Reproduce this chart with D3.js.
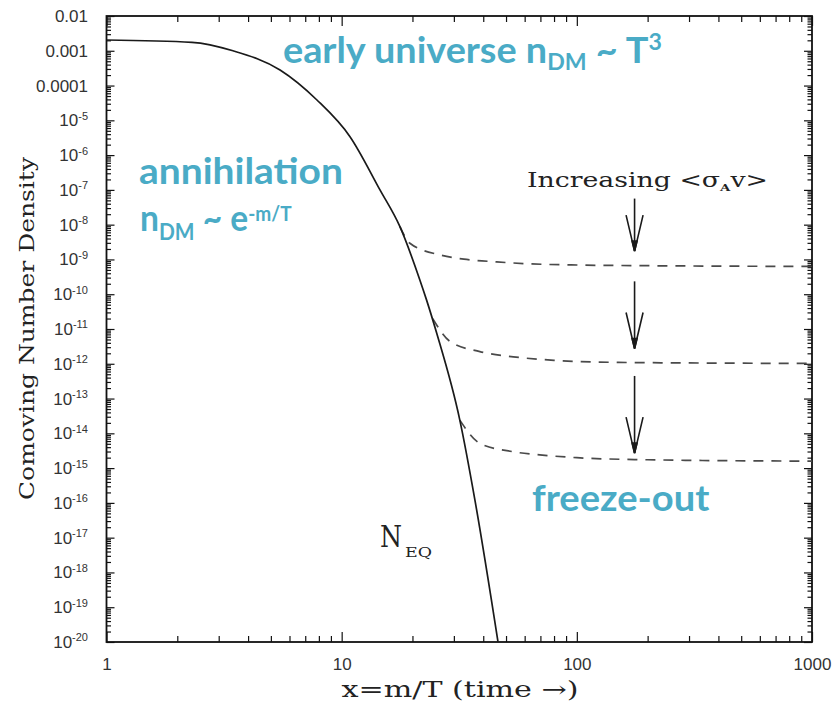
<!DOCTYPE html>
<html><head><meta charset="utf-8">
<script src="https://cdn.jsdelivr.net/npm/d3@7"></script>
<style>body{margin:0;background:#fff}</style>
</head><body>
<svg id="c" width="835" height="706"></svg>
<script>
// ---------- data ----------
const xTickValues = [1, 10, 100, 1000];
const yTickExponents = [-2,-3,-4,-5,-6,-7,-8,-9,-10,-11,-12,-13,-14,-15,-16,-17,-18,-19,-20];
// equilibrium curve N_EQ : x and log10(Y)
const eqX   = [1, 2.31, 3.45, 5.47, 7.85, 10.85, 14.55, 17.69, 21.5, 22.97, 25.33, 31.8, 36.87, 46.2];
const eqExp = [-2.69, -2.756, -3.0, -3.553, -4.415, -5.47, -7.0, -8.058, -9.59, -10.17, -11.11, -13.62, -15.92, -19.99];
// freeze-out (dashed) curves
const fo1X   = [17.69, 19.5, 26.2, 34.0, 45.6, 60, 100, 200, 1000];
const fo1Exp = [-8.058, -8.535, -8.87, -9.0, -9.07, -9.12, -9.16, -9.18, -9.2];
const fo2X   = [24.4, 28.9, 38.7, 53.7, 80, 150, 1000];
const fo2Exp = [-10.7, -11.36, -11.65, -11.80, -11.9, -11.96, -11.99];
const fo3X   = [31.8, 38.7, 53.7, 69.6, 100, 200, 1000];
const fo3Exp = [-13.62, -14.29, -14.53, -14.62, -14.7, -14.76, -14.8];
// arrows "Increasing <σv>"
const arrowX = 176;
const arrowFromExp = [-7.25, -9.63, -12.35];
const arrowToExp   = [-8.76, -11.56, -14.57];

// ---------- layout ----------
const svg = d3.select("#c");
const m = {left: 106.5, right: 812, top: 16, bottom: 642};
const x = d3.scaleLog().domain([1, 1000]).range([m.left, m.right]);
const y = d3.scaleLog().domain([1e-20, 1e-2]).range([m.bottom, m.top]);
const teal = "#4aabc6";

const yMajor = yTickExponents.map(e => Math.pow(10, e));
const yMinor = [];
for (let e = -20; e < -2; e++) for (let k = 2; k <= 9; k++) yMinor.push(k * Math.pow(10, e));
const xMinor = [];
for (let e = 0; e < 3; e++) for (let k = 2; k <= 9; k++) xMinor.push(k * Math.pow(10, e));

function cleanAxis(g){ g.select(".domain").remove(); g.selectAll(".tick line").attr("stroke","#111").attr("stroke-width",1.2); }

// minor ticks
svg.append("g").attr("transform",`translate(${m.left},0)`)
  .call(d3.axisLeft(y).tickValues(yMinor).tickSize(-4.5).tickFormat("")).call(cleanAxis);
svg.append("g").attr("transform",`translate(${m.right},0)`)
  .call(d3.axisRight(y).tickValues(yMinor).tickSize(-4.5).tickFormat("")).call(cleanAxis);
svg.append("g").attr("transform",`translate(0,${m.bottom})`)
  .call(d3.axisBottom(x).tickValues(xMinor).tickSize(-6).tickFormat("")).call(cleanAxis);
svg.append("g").attr("transform",`translate(0,${m.top})`)
  .call(d3.axisTop(x).tickValues(xMinor).tickSize(-6).tickFormat("")).call(cleanAxis);

// major ticks
const yAxisG = svg.append("g").attr("transform",`translate(${m.left},0)`)
  .call(d3.axisLeft(y).tickValues(yMajor).tickSize(-8).tickPadding(18.5).tickFormat(d => d))
  .call(cleanAxis);
svg.append("g").attr("transform",`translate(${m.right},0)`)
  .call(d3.axisRight(y).tickValues(yMajor).tickSize(-8).tickFormat("")).call(cleanAxis);
const xAxisG = svg.append("g").attr("transform",`translate(0,${m.bottom})`)
  .call(d3.axisBottom(x).tickValues(xTickValues).tickSize(-10).tickPadding(16).tickFormat(d3.format("d")))
  .call(cleanAxis);
svg.append("g").attr("transform",`translate(0,${m.top})`)
  .call(d3.axisTop(x).tickValues(xTickValues).tickSize(-10).tickFormat("")).call(cleanAxis);

xAxisG.selectAll("text").attr("font-family","'Liberation Sans', Arial, sans-serif").attr("font-size",17).attr("fill","#333");

yAxisG.selectAll(".tick text").each(function(d, i){
  const t = d3.select(this).text("").attr("font-family","'Liberation Sans', Arial, sans-serif").attr("fill","#333");
  const e = yTickExponents[i];
  if (e >= -4) {
    t.attr("font-size",17).text(e === -2 ? "0.01" : e === -3 ? "0.001" : "0.0001");
  } else {
    t.attr("font-size",17);
    t.append("tspan").text("10");
    t.append("tspan").attr("font-size",11).attr("dy","-6.5").text("-" + (-e));
  }
});

// frame
svg.append("rect").attr("x",m.left).attr("y",m.top).attr("width",m.right-m.left).attr("height",m.bottom-m.top)
  .attr("fill","none").attr("stroke","#111").attr("stroke-width",1.8);

// clip
svg.append("clipPath").attr("id","plot").append("rect")
  .attr("x",m.left).attr("y",m.top).attr("width",m.right-m.left).attr("height",m.bottom-m.top);

const line = d3.line().x(d => x(d[0])).y(d => y(Math.pow(10, d[1]))).curve(d3.curveMonotoneX);
const plot = svg.append("g").attr("clip-path","url(#plot)");

[[fo1X,fo1Exp],[fo2X,fo2Exp],[fo3X,fo3Exp]].forEach(([xs, es]) => {
  plot.append("path").attr("d", line(xs.map((v,i)=>[v, es[i]])))
    .attr("fill","none").attr("stroke","#4a4a4a").attr("stroke-width",1.7).attr("stroke-dasharray","10,8");
});
plot.append("path").attr("d", line(eqX.map((v,i)=>[v, eqExp[i]])))
  .attr("fill","none").attr("stroke","#1a1a1a").attr("stroke-width",1.7);

// arrows
arrowFromExp.forEach((e0, i) => {
  const ax = x(arrowX), y0 = y(Math.pow(10, e0)), y1 = y(Math.pow(10, arrowToExp[i]));
  const g = svg.append("g").attr("stroke","#1a1a1a").attr("fill","none").attr("stroke-width",1.6);
  g.append("line").attr("x1",ax).attr("x2",ax).attr("y1",y0).attr("y2",y1);
  g.append("path").attr("d",`M${ax-8.5},${y1-36} L${ax},${y1} L${ax+8.5},${y1-36}`);
  g.append("path").attr("d",`M${ax-2.5},${y1-10} L${ax},${y1} L${ax+2.5},${y1-10}Z`).attr("fill","#1a1a1a");
});

// ---------- text helpers ----------
function fit(t, x0, w){
  const bw = t.node().getBBox().width;
  const s = w / bw;
  t.attr("transform", `translate(${x0},0) scale(${s},1) translate(${-x0},0)`);
}
const sans = "Lato, 'Open Sans', sans-serif";
const serif = "'DejaVu Serif', 'Liberation Serif', serif";

// early universe n_DM ~ T^3
let t = svg.append("text").attr("x",283).attr("y",63).attr("font-family",sans).attr("font-weight","bold")
  .attr("font-size",36).attr("fill",teal);
t.append("tspan").text("early universe n");
t.append("tspan").attr("font-size",22).attr("dy",7).text("DM");
t.append("tspan").attr("dy",-7).text(" ~ T");
t.append("tspan").attr("font-size",22).attr("dy",-13).text("3");
fit(t, 283, 379);

// annihilation
t = svg.append("text").attr("x",139).attr("y",184.5).attr("font-family",sans).attr("font-weight","bold")
  .attr("font-size",37).attr("fill",teal).text("annihilation");
fit(t, 139, 204);

// n_DM ~ e^{-m/T}
t = svg.append("text").attr("x",140).attr("y",231.5).attr("font-family",sans).attr("font-weight","bold")
  .attr("font-size",37).attr("fill",teal);
t.append("tspan").text("n");
t.append("tspan").attr("font-size",23).attr("dy",8.5).text("DM");
t.append("tspan").attr("dy",-8.5).text(" ~ e");
t.append("tspan").attr("font-size",21).attr("dy",-10).text("-m/T");
fit(t, 140, 152);

// freeze-out
t = svg.append("text").attr("x",532).attr("y",511).attr("font-family",sans).attr("font-weight","bold")
  .attr("font-size",36).attr("fill",teal).text("freeze-out");
fit(t, 532, 178);

// Increasing <σ_A v>
t = svg.append("text").attr("x",527).attr("y",187).attr("font-family",serif)
  .attr("font-size",20).attr("fill","#222");
t.append("tspan").text("Increasing <σ");
t.append("tspan").attr("font-size",10).attr("font-weight","bold").attr("dy",4).text("A");
t.append("tspan").attr("dy",-4).text("v>");
fit(t, 527, 241);

// N_EQ
t = svg.append("text").attr("x",380).attr("y",546.7).attr("font-family",serif).attr("font-size",29).attr("fill","#222").text("N");
fit(t, 380, 22);
t = svg.append("text").attr("x",405).attr("y",557.3).attr("font-family",serif).attr("font-size",13).attr("fill","#222").text("EQ");
fit(t, 405, 27);

// axis titles
svg.append("text").attr("transform","translate(34,328.5) rotate(-90)").attr("text-anchor","middle")
  .attr("font-family",serif).attr("font-size",21).attr("fill","#222")
  .attr("textLength",343).attr("lengthAdjust","spacingAndGlyphs").text("Comoving Number Density");
svg.append("text").attr("x",460).attr("y",697).attr("text-anchor","middle")
  .attr("font-family",serif).attr("font-size",22).attr("fill","#222")
  .attr("textLength",237).attr("lengthAdjust","spacingAndGlyphs").text("x=m/T (time →)");
</script>
</body></html>
